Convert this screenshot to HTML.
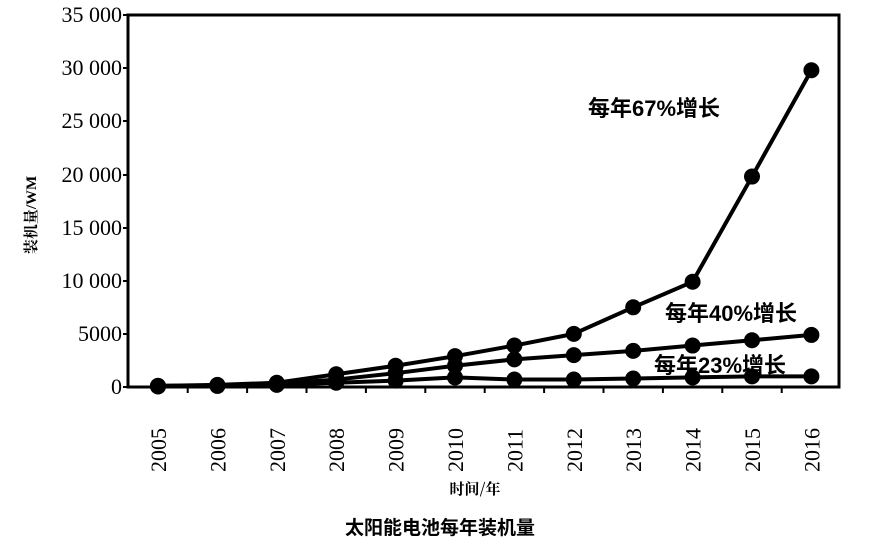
<!DOCTYPE html>
<html><head><meta charset="utf-8"><style>body{margin:0;background:#fff}</style></head><body>
<svg width="883" height="548" xmlns="http://www.w3.org/2000/svg">
<g font-family="Liberation Serif, serif" font-size="22" fill="#000" text-anchor="end">
<text x="122" y="22">35 000</text><text x="122" y="75">30 000</text><text x="122" y="128">25 000</text>
<text x="122" y="182">20 000</text><text x="122" y="235">15 000</text><text x="122" y="288">10 000</text>
<text x="122" y="341">5000</text><text x="122" y="394">0</text>
</g>
<rect x="128" y="15" width="711" height="372" fill="none" stroke="#000" stroke-width="3"/>
<g stroke="#000" stroke-width="2">
<line x1="123" y1="15" x2="128" y2="15"/><line x1="123" y1="68" x2="128" y2="68"/><line x1="123" y1="121" x2="128" y2="121"/>
<line x1="123" y1="175" x2="128" y2="175"/><line x1="123" y1="228" x2="128" y2="228"/><line x1="123" y1="281" x2="128" y2="281"/>
<line x1="123" y1="334" x2="128" y2="334"/><line x1="123" y1="387" x2="128" y2="387"/>
</g>
<g stroke="#000" stroke-width="2" id="xt"></g>
<g font-family="Liberation Serif, serif" font-size="22" fill="#000" text-anchor="start" id="xl"></g>
<g id="series" fill="#000" stroke="#000" stroke-width="4" stroke-linejoin="round"></g>
<text x="36" y="215" font-family="Liberation Serif, 'Noto Serif CJK SC', serif" font-size="15" font-weight="bold" transform="rotate(-90 36 215)" text-anchor="middle">装机量/WM</text>
<g font-family="Liberation Sans, 'Noto Sans CJK SC', sans-serif" font-size="22" font-weight="bold">
<text x="588" y="116">每年67%增长</text>
<text x="665" y="321">每年40%增长</text>
<text x="654" y="373">每年23%增长</text>
</g>
<text x="475" y="494" font-family="'Noto Serif CJK SC', serif" font-size="15" font-weight="bold" text-anchor="middle">时间/年</text>
<text x="440" y="534" font-family="'Noto Sans CJK SC', sans-serif" font-size="19" font-weight="bold" text-anchor="middle">太阳能电池每年装机量</text>
<script>
var ns="http://www.w3.org/2000/svg";
function X(i){return 158+i*59.4}
function Y(v){return 387-v*372/35000}
var xt=document.getElementById('xt'),xl=document.getElementById('xl'),s=document.getElementById('series');
for(var i=0;i<12;i++){
 var t=document.createElementNS(ns,'line');var xx=X(i)+29.7;
 if(i<11){t.setAttribute('x1',xx);t.setAttribute('x2',xx);t.setAttribute('y1',387);t.setAttribute('y2',393);xt.appendChild(t);}
 var tx=document.createElementNS(ns,'text');tx.textContent=2005+i;
 tx.setAttribute('transform','translate('+(X(i)+8)+',472) rotate(-90)');xl.appendChild(tx);
}
var data=[[100,200,400,1200,2000,2900,3900,5000,7500,9900,19800,29800],
[100,150,300,700,1300,2000,2600,3000,3400,3900,4400,4900],
[50,100,200,400,600,900,700,700,800,900,1000,1000]];
data.forEach(function(d){
 var p=document.createElementNS(ns,'polyline');
 p.setAttribute('points',d.map(function(v,i){return X(i)+','+Y(v)}).join(' '));
 p.setAttribute('fill','none');s.appendChild(p);
 d.forEach(function(v,i){var c=document.createElementNS(ns,'circle');c.setAttribute('cx',X(i));c.setAttribute('cy',Y(v));c.setAttribute('r',8);c.setAttribute('stroke','none');s.appendChild(c);});
});
</script>
</svg>
</body></html>
